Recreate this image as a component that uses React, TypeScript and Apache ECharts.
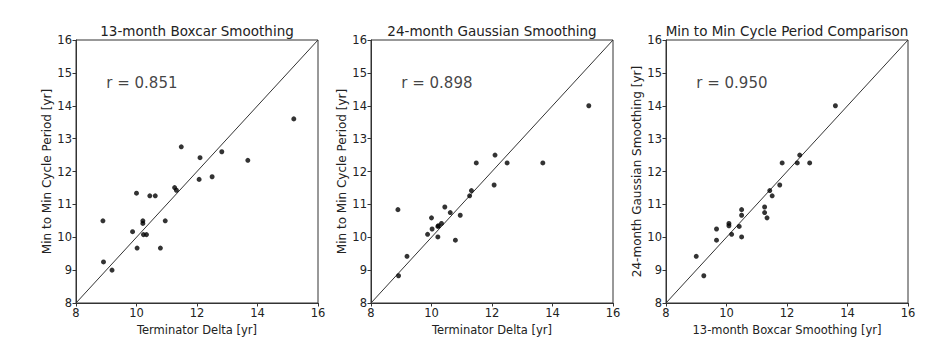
import React, { useEffect, useRef } from "react";
import * as echarts from "echarts";

// Per-cycle values (years)
const termDelta = [15.2, 11.48, 12.1, 12.82, 13.68, 12.07, 12.5, 11.26, 11.32, 10.0, 10.44, 10.62, 8.89, 10.95, 10.21, 10.21, 9.87, 10.23, 10.33, 10.02, 10.79, 8.91, 9.19];
const boxcar = [13.6, 12.75, 12.42, 12.6, 12.34, 11.76, 11.84, 11.51, 11.43, 11.34, 11.26, 11.26, 10.5, 10.5, 10.5, 10.42, 10.17, 10.08, 10.08, 9.67, 9.67, 9.25, 9.0];
const gaussian: (number | null)[] = [14.0, 12.26, 12.5, null, 12.26, 11.59, 12.26, 11.26, 11.42, 10.59, 10.92, 10.75, 10.84, 10.67, 10.01, 10.33, 10.09, 10.35, 10.42, 10.25, 9.91, 8.83, 9.42];

const titles = ["13-month Boxcar Smoothing", "24-month Gaussian Smoothing", "Min to Min Cycle Period Comparison"];
const xNames = ["Terminator Delta [yr]", "Terminator Delta [yr]", "13-month Boxcar Smoothing [yr]"];
const yNames = ["Min to Min Cycle Period [yr]", "Min to Min Cycle Period [yr]", "24-month Gaussian Smoothing [yr]"];
const rValues = ["r = 0.851", "r = 0.898", "r = 0.950"];
const axisMin = 8;
const axisMax = 16;
const rTextPos = [9, 14.7];

const FONT = "DejaVu Sans";

export default function App() {
  const ref = useRef<HTMLDivElement>(null);
  useEffect(() => {
    if (!ref.current) return;
    const chart = echarts.init(ref.current, undefined, { renderer: "svg" });

    const pairs1 = termDelta.map((x, i) => [x, boxcar[i]]);
    const pairs2 = termDelta
      .map((x, i) => [x, gaussian[i]])
      .filter((p) => p[1] !== null);
    const pairs3 = boxcar
      .map((x, i) => [x, gaussian[i]])
      .filter((p) => p[1] !== null);
    const panels = [pairs1, pairs2, pairs3];

    const lefts = [76, 371, 666];
    const gw = 242;
    const top = 40;
    const gh = 263;

    const grids = lefts.map((l) => ({
      left: l,
      top,
      width: gw,
      height: gh,
      show: true,
      borderColor: "#333",
      borderWidth: 1,
      backgroundColor: "transparent",
    }));

    const axisCommon = {
      type: "value",
      min: axisMin,
      max: axisMax,
      nameLocation: "middle",
      axisLine: { show: true, lineStyle: { color: "#333", width: 1 } },
      axisTick: { show: true, inside: false, length: 3.5, lineStyle: { color: "#333" } },
      axisLabel: { fontSize: 11.5, color: "#222", fontFamily: FONT, margin: 4 },
      splitLine: { show: false },
    };

    const xAxes = lefts.map((_, i) => ({
      ...axisCommon,
      gridIndex: i,
      interval: 2,
      name: xNames[i],
      nameGap: 19,
      nameTextStyle: { fontSize: 11.5, color: "#222", fontFamily: FONT },
    }));
    const yAxes = lefts.map((_, i) => ({
      ...axisCommon,
      gridIndex: i,
      interval: 1,
      name: yNames[i],
      nameGap: 21,
      nameTextStyle: { fontSize: 12, color: "#222", fontFamily: FONT },
    }));

    const series: any[] = [];
    panels.forEach((pts, i) => {
      series.push({
        type: "line",
        xAxisIndex: i,
        yAxisIndex: i,
        data: [
          [axisMin, axisMin],
          [axisMax, axisMax],
        ],
        symbol: "none",
        lineStyle: { color: "#333", width: 1 },
        silent: true,
        z: 1,
      });
      series.push({
        type: "scatter",
        xAxisIndex: i,
        yAxisIndex: i,
        data: pts,
        symbol: "circle",
        symbolSize: 5,
        itemStyle: { color: "#000" },
        z: 3,
      });
      series.push({
        type: "scatter",
        xAxisIndex: i,
        yAxisIndex: i,
        data: [rTextPos],
        symbolSize: 0,
        silent: true,
        label: {
          show: true,
          position: "right",
          distance: 0,
          formatter: rValues[i],
          fontSize: 15,
          color: "#111",
          fontFamily: FONT,
        },
      });
    });

    const graphic = lefts.map((l, i) => ({
      type: "text",
      x: l + gw / 2,
      y: 30.5,
      style: {
        text: titles[i],
        font: `13.5px "${FONT}"`,
        fill: "#222",
        textAlign: "center",
        textVerticalAlign: "middle",
        align: "center",
        verticalAlign: "middle",
      },
    }));

    chart.setOption({
      animation: false,
      backgroundColor: "#fff",
      grid: grids,
      xAxis: xAxes,
      yAxis: yAxes,
      series,
      graphic,
    });
    return () => chart.dispose();
  }, []);
  return (
    <div
      ref={ref}
      style={{ position: "absolute", left: 0, top: 0, width: 937, height: 363 }}
    />
  );
}
